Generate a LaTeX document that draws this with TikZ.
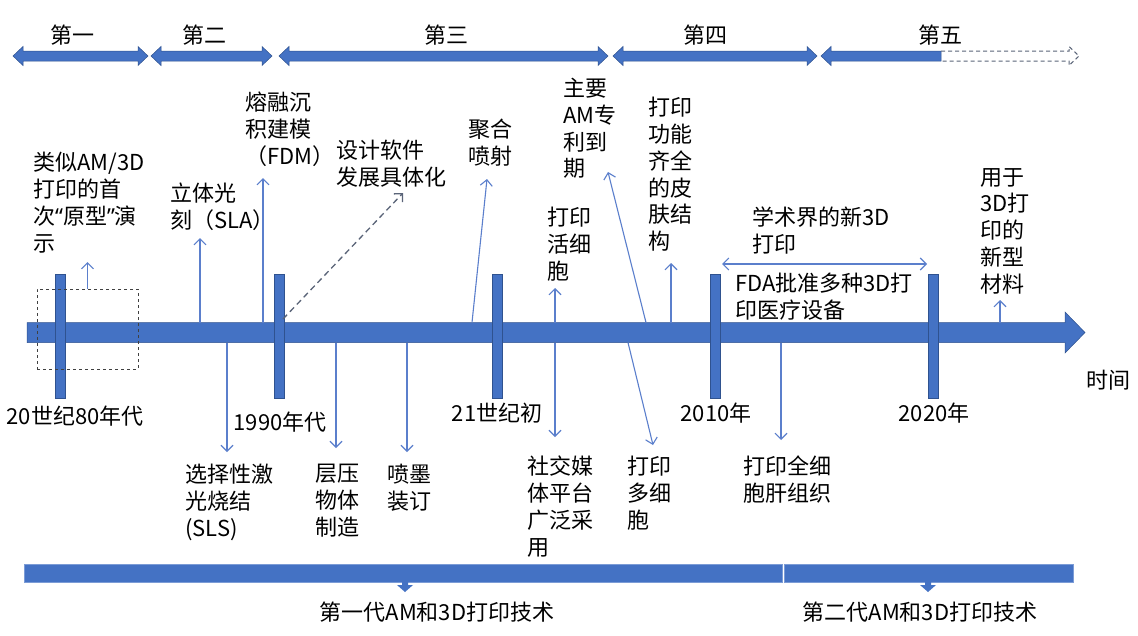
\documentclass[tikz,border=0pt]{standalone}
\usepackage{fontspec}
\setmainfont{Noto Sans CJK SC}
\newfontfamily\quotefont{Noto Sans}
\usetikzlibrary{arrows.meta}
\definecolor{mainblue}{HTML}{4472C4}
\definecolor{edgeblue}{HTML}{2F528F}
\definecolor{linkblue}{HTML}{5B7FCC}
\definecolor{dashgray}{HTML}{5A6478}
\tikzset{
  lbl/.style={anchor=north west, inner sep=0pt, align=left, font=\fontsize{22}{26.8}\selectfont},
  clbl/.style={anchor=center, inner sep=0pt, font=\fontsize{22}{26.8}\selectfont},
  conn/.style={draw=linkblue, line width=1.1pt, -{Straight Barb[length=6pt,width=12pt,line width=1.1pt]}},
  dconn/.style={draw=dashgray, line width=1.3pt, dash pattern=on 6pt off 4pt, -{Straight Barb[length=6pt,width=12pt,line width=1.3pt]}},
  tickbar/.style={draw=edgeblue, fill=mainblue, line width=0.6pt, minimum width=10pt, minimum height=124pt, inner sep=0pt},
  blockfill/.style={fill=mainblue, draw=edgeblue, line width=0.5pt},
}
\newcommand{\dblarrow}[3]{% x1, x2, y
  \filldraw[blockfill] (#1,#3) -- (#1+10,#3-9.5) -- (#1+10,#3-5) -- (#2-10,#3-5) -- (#2-10,#3-9.5) -- (#2,#3) -- (#2-10,#3+9.5) -- (#2-10,#3+5) -- (#1+10,#3+5) -- (#1+10,#3+9.5) -- cycle;}
\begin{document}
\begin{tikzpicture}[x=1pt,y=-1pt]
\useasboundingbox (0,0) rectangle (1138,635);
\fill[white] (0,0) rectangle (1138,635);

% ---- top era arrows ----
\dblarrow{13}{148}{56}
\dblarrow{151}{272}{56}
\dblarrow{279}{608}{56}
\dblarrow{613}{817}{56}
\filldraw[blockfill] (821,56) -- (831,46.5) -- (831,51) -- (941,51) -- (941,61) -- (831,61) -- (831,65.5) -- cycle;
\draw[dashgray, line width=1pt, dash pattern=on 4pt off 3pt] (941,51) -- (1069,51) -- (1069,46.5) -- (1079,56) -- (1069,65.5) -- (1069,61) -- (941,61);
\node[clbl] (e1) at (72,35) {第一};
\node[clbl] (e2) at (204,35) {第二};
\node[clbl] (e3) at (446,35) {第三};
\node[clbl] (e4) at (705,35) {第四};
\node[clbl] (e5) at (940,35) {第五};

% ---- main axis ----
\filldraw[blockfill] (27,322.5) -- (1065,322.5) -- (1065,312) -- (1085,332.5) -- (1065,353) -- (1065,342.5) -- (27,342.5) -- cycle;
\node[tickbar] (t1) at (60.5,336) {};
\node[tickbar] (t2) at (279,336) {};
\node[tickbar] (t3) at (497.5,336) {};
\node[tickbar] (t4) at (715.5,336) {};
\node[tickbar] (t5) at (933.5,336) {};

% ---- year labels ----
\node[clbl] (y1) at (75,416) {20世纪80年代};
\node[clbl] (y2) at (280,422) {1990年代};
\node[clbl] (y3) at (497,413) {21世纪初};
\node[clbl] (y4) at (716,413) {2010年};
\node[clbl] (y5) at (934,413) {2020年};
\node[clbl] (time) at (1108,380) {时间};

% ---- dashed box ----
\node[draw=black!75, dashed, line width=0.8pt, minimum width=101pt, minimum height=80pt, inner sep=0pt] (box) at (87.5,329) {};

% ---- labels above ----
\node[lbl] (l1) at (33,152) {类似AM/3D\\打印的首\\次{\quotefont “}原型{\quotefont ”}演\\示};
\node[lbl] (l2) at (170,183) {立体光\\刻（SLA）};
\node[lbl] (l3) at (245,92) {熔融沉\\积建模\\（FDM）};
\node[lbl] (l4) at (336,140) {设计软件\\发展具体化};
\node[lbl] (l5) at (468,119) {聚合\\喷射};
\node[lbl] (l6) at (563,78) {主要\\AM专\\利到\\期};
\node[lbl] (l7) at (547,207) {打印\\活细\\胞};
\node[lbl] (l8) at (648,97) {打印\\功能\\齐全\\的皮\\肤结\\构};
\node[lbl] (l9) at (752,207) {学术界的新3D\\打印};
\node[lbl] (l10) at (735,273) {FDA批准多种3D打\\印医疗设备};
\node[lbl] (l11) at (980,168) {用于\\3D打\\印的\\新型\\材料};

% ---- labels below ----
\node[lbl] (b1) at (185,464) {选择性激\\光烧结\\(SLS)};
\node[lbl] (b2) at (315,464) {层压\\物体\\制造};
\node[lbl] (b3) at (387,464) {喷墨\\装订};
\node[lbl] (b4) at (527,456) {社交媒\\体平台\\广泛采\\用};
\node[lbl] (b5) at (627,456) {打印\\多细\\胞};
\node[lbl] (b6) at (743,456) {打印全细\\胞肝组织};

% ---- connector anchor coordinates ----
\coordinate (s1) at (box.north);   \coordinate (e1a) at (87.5,262);
\coordinate (s2) at (200,322.5);   \coordinate (e2a) at (200,238);
\coordinate (s3) at (263,322.5);   \coordinate (e3a) at (263,178);
\coordinate (s4) at (283,319);     \coordinate (e4a) at (403,193);
\coordinate (s5) at (472,322.5);   \coordinate (e5a) at (487,179);
\coordinate (s6) at (646,322.5);   \coordinate (e6a) at (608,172);
\coordinate (s7) at (555,322.5);   \coordinate (e7a) at (555,288);
\coordinate (s8) at (671,322.5);   \coordinate (e8a) at (671,263);
\coordinate (s9) at (1000,322.5);  \coordinate (e9a) at (1000,300);
\coordinate (h1) at (722,264);     \coordinate (h2) at (927,264);
\coordinate (d1) at (227,342.5);   \coordinate (f1) at (227,452);
\coordinate (d2) at (336,342.5);   \coordinate (f2) at (336,448);
\coordinate (d3) at (407,342.5);   \coordinate (f3) at (407,452);
\coordinate (d4) at (555,342.5);   \coordinate (f4) at (555,437);
\coordinate (d5) at (628,342.5);   \coordinate (f5) at (653,445);
\coordinate (d6) at (781,342.5);   \coordinate (f6) at (781,440);

\draw[conn] (s1) -- (e1a);
\draw[conn] (s2) -- (e2a);
\draw[conn] (s3) -- (e3a);
\draw[dconn] (s4) -- (e4a);
\draw[conn] (s5) -- (e5a);
\draw[conn] (s6) -- (e6a);
\draw[conn] (s7) -- (e7a);
\draw[conn] (s8) -- (e8a);
\draw[conn] (s9) -- (e9a);
\draw[draw=linkblue, line width=1.1pt, {Straight Barb[length=6pt,width=12pt,line width=1.1pt]}-{Straight Barb[length=6pt,width=12pt,line width=1.1pt]}] (h1) -- (h2);
\draw[conn] (d1) -- (f1);
\draw[conn] (d2) -- (f2);
\draw[conn] (d3) -- (f3);
\draw[conn] (d4) -- (f4);
\draw[conn] (d5) -- (f5);
\draw[conn] (d6) -- (f6);

% ---- generation bars ----
\node[fill=mainblue, draw=mainblue!70, line width=0.5pt, minimum width=758pt, minimum height=18pt, inner sep=0pt] (g1) at (403,573) {};
\node[fill=mainblue, draw=mainblue!70, line width=0.5pt, minimum width=289pt, minimum height=18pt, inner sep=0pt] (g2) at (928.5,573) {};
\fill[mainblue] (402,582) -- (402,585) -- (397,585) -- (405,592) -- (413,585) -- (408,585) -- (408,582) -- cycle;
\fill[mainblue] (925,582) -- (925,585) -- (920,585) -- (928,592) -- (936,585) -- (931,585) -- (931,582) -- cycle;
\node[clbl] (gl1) at (437,612) {第一代AM和3D打印技术};
\node[clbl] (gl2) at (920,612) {第二代AM和3D打印技术};
\end{tikzpicture}
\end{document}
